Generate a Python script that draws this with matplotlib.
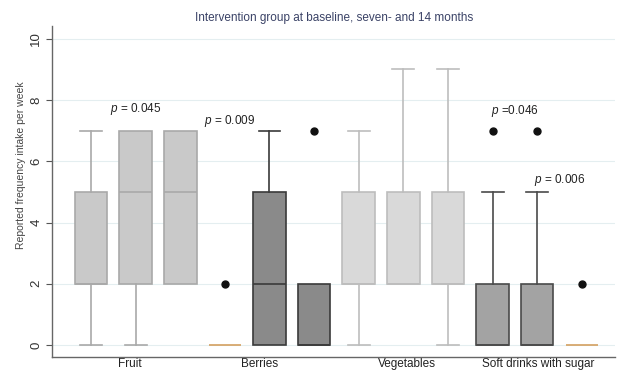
import matplotlib
matplotlib.use("Agg")
import matplotlib.pyplot as plt

plt.rcParams["font.family"] = ["Liberation Sans", "DejaVu Sans"]
plt.rcParams["mathtext.fontset"] = "custom"
plt.rcParams["mathtext.it"] = "Liberation Sans:italic"
plt.rcParams["mathtext.rm"] = "Liberation Sans"

# ---- data ----
categories = ["Fruit", "Berries", "Vegetables", "Soft drinks with sugar"]
timepoints = ["baseline", "7 months", "14 months"]
# per box (category x timepoint), in order
whislo = [0, 0, 2,   0, 0, 0,   0, 2, 0,   0, 0, 0]
q1     = [2, 2, 2,   0, 0, 0,   2, 2, 2,   0, 0, 0]
med    = [2, 5, 5,   0, 2, 0,   2, 2, 2,   0, 0, 0]
q3     = [5, 7, 7,   0, 5, 2,   5, 5, 5,   2, 2, 0]
whishi = [7, 7, 7,   0, 7, 2,   7, 9, 9,   5, 5, 0]
fliers = [[], [], [],   [2], [], [7],   [], [], [],   [7], [7], [2]]
p_labels = ["$p$ = 0.045", "$p$ = 0.009", "$p$ =0.046", "$p$ = 0.006"]
p_box = [1, 3.1, 9.5, 10.5]
p_y = [7.7, 7.3, 7.65, 5.4]

# ---- styles ----
face = ["#c9c9c9", "#8a8a8a", "#d9d9d9", "#a3a3a3"]
edge = ["#a9a9a9", "#3a3a3a", "#bdbdbd", "#4a4a4a"]

fig = plt.figure(figsize=(6.19, 3.71), dpi=100)
ax = fig.add_axes([0.084, 0.038, 0.91, 0.892])

stats = []
for i in range(12):
    stats.append(dict(whislo=whislo[i], q1=q1[i], med=med[i], q3=q3[i],
                      whishi=whishi[i], fliers=fliers[i]))

for c in range(4):
    idx = list(range(c * 3, c * 3 + 3))
    st = [stats[i] for i in idx]
    res = ax.bxp(st, positions=idx, widths=0.73, patch_artist=True, showfliers=True,
                 boxprops=dict(facecolor=face[c], edgecolor=edge[c], linewidth=1.2),
                 medianprops=dict(color=edge[c], linewidth=1.2),
                 whiskerprops=dict(color=edge[c], linewidth=1.2),
                 capprops=dict(color=edge[c], linewidth=1.2),
                 capwidths=0.49,
                 flierprops=dict(marker="o", markerfacecolor="#111111",
                                 markeredgecolor="#111111", markersize=5))
    for k, i in enumerate(idx):
        if whislo[i] == q1[i]:
            res["caps"][2 * k].set_visible(False)
        if whishi[i] == q3[i]:
            res["caps"][2 * k + 1].set_visible(False)
        if q1[i] == q3[i]:
            res["boxes"][k].set_visible(False)
            res["medians"][k].set_visible(False)
            ax.plot([i - 0.36, i + 0.36], [med[i], med[i]], color="#d4a060",
                    lw=1.2, zorder=5, solid_capstyle="butt")

for lab, xb, yv in zip(p_labels, p_box, p_y):
    ax.text(xb, yv, lab, ha="center", va="center", fontsize=8.5, color="#222222")

ax.set_xlim(-0.874, 11.75)
ax.set_ylim(-0.39, 10.42)
ax.set_yticks([0, 2, 4, 6, 8, 10])
ax.set_yticklabels(["0", "2", "4", "6", "8", "10"], rotation=90, va="center",
                   fontsize=9.5, color="#333333")
ax.yaxis.grid(True, color="#e4eef0", lw=0.8)
ax.set_axisbelow(True)
ax.set_xticks([0.87, 3.77, 7.09, 10.02])
ax.set_xticklabels(categories, fontsize=8.5, color="#222222")
ax.tick_params(axis="x", length=0, pad=1)
ax.tick_params(axis="y", length=4, color="#555555", pad=3)
for s in ["top", "right"]:
    ax.spines[s].set_visible(False)
for s in ["left", "bottom"]:
    ax.spines[s].set_color("#666666")
    ax.spines[s].set_linewidth(1.0)
ax.set_ylabel("Reported frequency intake per week", fontsize=7.5, color="#444444")
ax.yaxis.set_label_coords(-0.047, 0.58)
fig.text(0.54, 0.952, "Intervention group at baseline, seven- and 14 months",
         ha="center", va="center", fontsize=8.5, color="#3a4266")

fig.savefig("out.png", dpi=100)
